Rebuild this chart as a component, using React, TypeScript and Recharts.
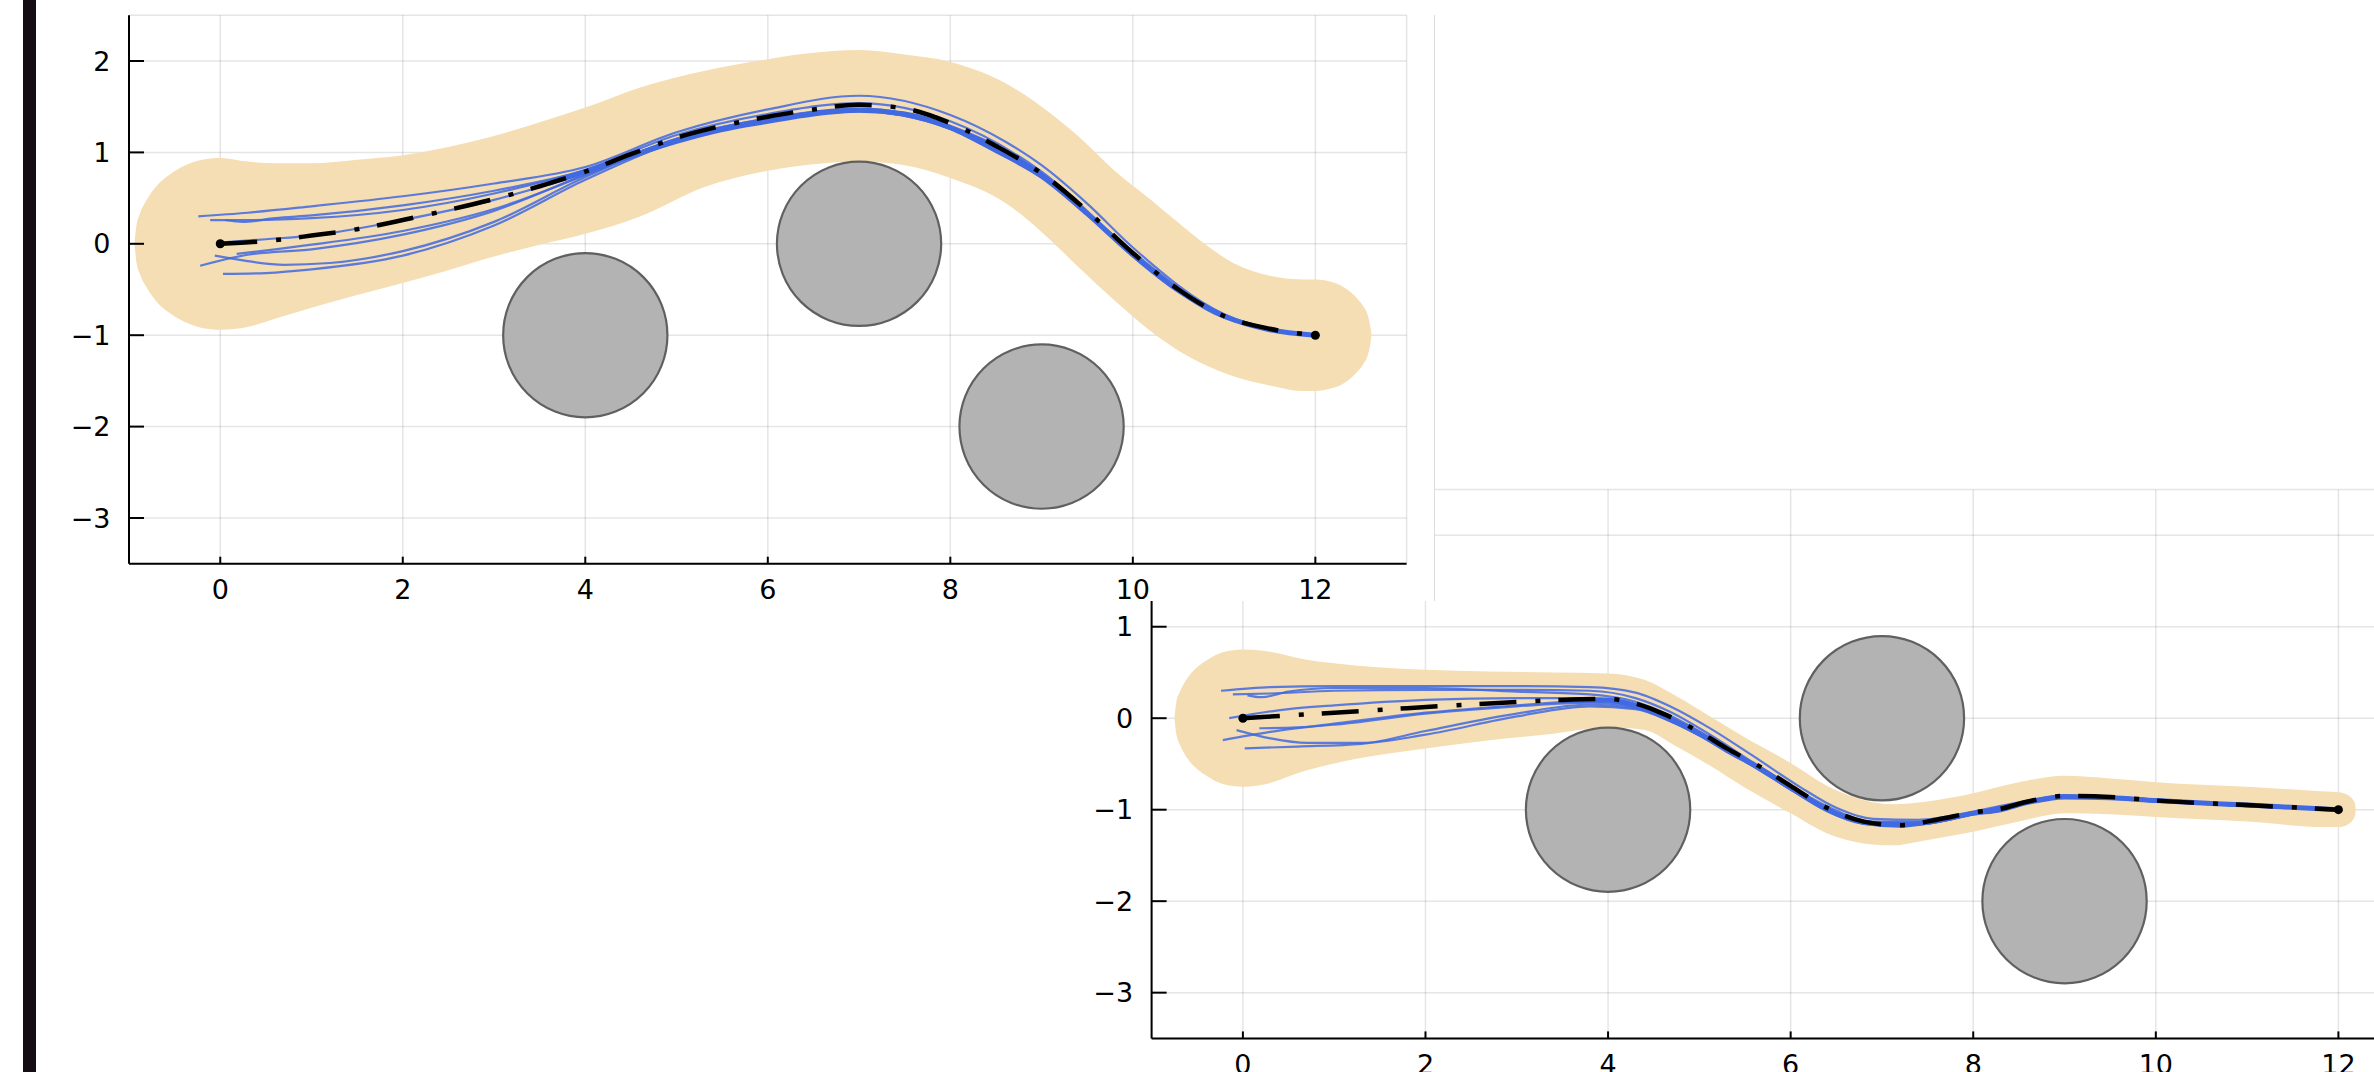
import React from "react";
import {
  ComposedChart,
  Area,
  Line,
  Scatter,
  XAxis,
  YAxis,
  CartesianGrid,
} from "recharts";

type Pt = [number, number];

const X_TICKS = [0, 2, 4, 6, 8, 10, 12];
const Y_TICKS = [-3, -2, -1, 0, 1, 2];
const X_DOMAIN: [number, number] = [-1, 13];
const Y_DOMAIN: [number, number] = [-3.5, 2.5];

const OBSTACLES = [
  { x: 4, y: -1, r: 0.9 },
  { x: 7, y: 0, r: 0.9 },
  { x: 9, y: -2, r: 0.9 },
];
const ENDPOINTS = [
  { x: 0, y: 0 },
  { x: 12, y: -1 },
];

// ---- top-left panel ----
const BAND1_X = [
  -0.94, -0.92, -0.88, -0.8, -0.7, -0.55, -0.4, -0.2, 0, 0.3, 0.6, 1.0, 1.5,
  2.0, 2.5, 3.0, 3.5, 4.0, 4.6, 5.3, 6.0, 6.5, 7.0, 7.5, 8.0, 8.6, 9.0, 9.4,
  9.8, 10.2, 10.5, 10.8, 11.1, 11.5, 11.85, 12.0, 12.2, 12.35, 12.45, 12.53,
  12.58, 12.605, 12.615,
];
const BAND1_LO = [
  0, -0.19, -0.33, -0.49, -0.63, -0.76, -0.85, -0.92, -0.94, -0.91, -0.82,
  -0.7, -0.56, -0.43, -0.29, -0.14, -0.01, 0.11, 0.3, 0.62, 0.8, 0.87, 0.9,
  0.86, 0.72, 0.45, 0.13, -0.25, -0.62, -0.96, -1.17, -1.33, -1.45, -1.55,
  -1.61, -1.61, -1.576, -1.5, -1.41, -1.31, -1.2, -1.08, -1.0,
];
const BAND1_HI = [
  0, 0.19, 0.33, 0.49, 0.63, 0.76, 0.85, 0.92, 0.94, 0.9, 0.88, 0.88, 0.92,
  0.97, 1.06, 1.18, 1.33, 1.49, 1.71, 1.89, 2.02, 2.09, 2.12, 2.07, 1.99,
  1.76, 1.5, 1.18, 0.8, 0.48, 0.23, -0.01, -0.21, -0.35, -0.39, -0.39, -0.424,
  -0.5, -0.59, -0.69, -0.8, -0.92, -1.0,
];
const REF1: Pt[] = [
  [0, 0], [0.5, 0.03], [1, 0.09], [1.5, 0.16], [2, 0.26], [2.5, 0.37],
  [3, 0.49], [3.5, 0.63], [4, 0.79], [4.5, 0.98], [5, 1.16], [5.5, 1.29],
  [6, 1.39], [6.5, 1.47], [7, 1.52], [7.5, 1.48], [8, 1.32], [8.5, 1.07],
  [9, 0.77], [9.5, 0.36], [10, -0.1], [10.5, -0.5], [11, -0.79],
  [11.5, -0.93], [12, -1],
];
const MEAN1: Pt[] = [
  [3.6, 0.66], [4, 0.79], [4.5, 0.96], [5, 1.12], [5.5, 1.25], [6, 1.34],
  [6.5, 1.42], [7, 1.46], [7.5, 1.42], [8, 1.27], [8.5, 1.02], [9, 0.74],
  [9.5, 0.33], [10, -0.12], [10.5, -0.51], [11, -0.79], [11.5, -0.94],
  [12, -1],
];
const SAMPLES1: Pt[][] = [
  [[-0.24, 0.3], [0.3, 0.34], [1, 0.41], [2, 0.52], [3, 0.66], [4, 0.84], [5, 1.22], [6, 1.47], [7, 1.62], [8, 1.41], [8.6, 1.12], [9, 0.86], [9.5, 0.44], [10, -0.04], [11, -0.77], [12, -1]],
  [[-0.11, 0.26], [0.3, 0.26], [1, 0.28], [2, 0.37], [3, 0.55], [4, 0.81], [5, 1.19], [6, 1.42], [7, 1.54], [8, 1.34], [9, 0.79], [10, -0.09], [11, -0.79], [12, -1]],
  [[0.05, 0.26], [0.25, 0.24], [0.6, 0.28], [1, 0.31], [2, 0.42], [3, 0.58], [4, 0.8], [5, 1.14], [6, 1.36], [7, 1.47], [8, 1.28], [9, 0.76], [10, -0.12], [11, -0.8], [12, -1]],
  [[-0.04, 0.01], [0.5, 0.05], [1, 0.09], [2, 0.26], [3, 0.48], [4, 0.78], [5, 1.15], [6, 1.37], [7, 1.48], [8, 1.29], [9, 0.77], [10, -0.11], [11, -0.8], [12, -1]],
  [[0.18, -0.11], [0.6, -0.06], [1, -0.01], [2, 0.14], [3, 0.38], [4, 0.75], [5, 1.14], [6, 1.36], [7, 1.46], [8, 1.27], [9, 0.76], [10, -0.12], [11, -0.8], [12, -1]],
  [[-0.06, -0.13], [0.3, -0.19], [0.7, -0.23], [1.2, -0.21], [2, -0.08], [3, 0.24], [4, 0.73], [5, 1.13], [6, 1.35], [7, 1.45], [8, 1.26], [9, 0.75], [10, -0.12], [11, -0.8], [12, -1]],
  [[-0.22, -0.24], [0.3, -0.12], [1, -0.06], [2, 0.1], [3, 0.36], [4, 0.76], [5, 1.15], [6, 1.37], [7, 1.47], [8, 1.28], [9, 0.77], [10, -0.11], [11, -0.8], [12, -1]],
  [[0.03, -0.33], [0.5, -0.32], [1, -0.28], [2, -0.13], [3, 0.2], [4, 0.7], [5, 1.12], [6, 1.35], [7, 1.45], [8, 1.26], [9, 0.76], [10, -0.13], [11, -0.81], [12, -1]],
];

// ---- bottom-right panel ----
const BAND2_X = [
  -0.75, -0.73, -0.69, -0.62, -0.52, -0.4, -0.22, 0, 0.2, 0.7, 1.2, 2.0, 2.7,
  3.4, 4.0, 4.4, 4.75, 5.1, 5.5, 6.0, 6.4, 6.75, 7.1, 7.5, 8.0, 8.5, 9.0, 9.5,
  10.0, 11.0, 11.85, 12.0, 12.06, 12.12, 12.16, 12.18, 12.19,
];
const BAND2_LO = [
  0, -0.17, -0.29, -0.42, -0.54, -0.63, -0.72, -0.75, -0.73, -0.57, -0.45,
  -0.33, -0.24, -0.17, -0.1, -0.13, -0.31, -0.51, -0.76, -1.04, -1.26, -1.36,
  -1.39, -1.33, -1.24, -1.13, -1.04, -1.05, -1.08, -1.13, -1.19, -1.19, -1.18,
  -1.15, -1.11, -1.07, -1.0,
];
const BAND2_HI = [
  0, 0.17, 0.29, 0.42, 0.54, 0.63, 0.72, 0.75, 0.74, 0.64, 0.58, 0.53, 0.51,
  0.5, 0.49, 0.42, 0.24, 0.03, -0.21, -0.49, -0.74, -0.88, -0.94, -0.91,
  -0.82, -0.7, -0.63, -0.66, -0.7, -0.75, -0.8, -0.81, -0.82, -0.85, -0.89,
  -0.93, -1.0,
];
const REF2: Pt[] = [
  [0, 0], [0.5, 0.03], [1, 0.06], [1.8, 0.11], [2.5, 0.15], [3.5, 0.2],
  [4, 0.21], [4.3, 0.16], [4.6, 0.05], [5, -0.15], [5.3, -0.33], [5.7, -0.55],
  [6, -0.74], [6.4, -0.98], [6.8, -1.13], [7.2, -1.17], [7.6, -1.11],
  [8, -1.03], [8.3, -0.99], [8.6, -0.91], [9, -0.85], [9.5, -0.86],
  [10, -0.9], [11, -0.95], [12, -1],
];
const MEAN2: Pt[] = [
  [3.5, 0.19], [4, 0.2], [4.3, 0.14], [4.6, 0.03], [5, -0.17], [5.3, -0.35],
  [5.7, -0.57], [6, -0.76], [6.4, -1.0], [6.8, -1.14], [7.2, -1.17],
  [7.6, -1.12], [8, -1.04], [8.3, -1.0], [8.6, -0.92], [9, -0.86],
  [9.5, -0.87], [10, -0.9], [11, -0.95], [12, -1],
];
const SAMPLES2: Pt[][] = [
  [[-0.24, 0.3], [0.3, 0.34], [1, 0.35], [2, 0.35], [3, 0.35], [3.8, 0.34], [4.3, 0.28], [4.7, 0.12], [5.1, -0.1], [5.6, -0.42], [6.1, -0.75], [6.5, -0.98], [6.9, -1.1], [7.4, -1.11], [8, -1.02], [8.6, -0.9], [9, -0.84], [10, -0.89], [11, -0.95], [12, -1]],
  [[-0.11, 0.26], [0.3, 0.27], [1, 0.3], [2, 0.31], [3, 0.31], [3.8, 0.3], [4.3, 0.22], [4.7, 0.06], [5.1, -0.17], [5.6, -0.49], [6.1, -0.8], [6.5, -1.01], [6.9, -1.13], [7.4, -1.13], [8, -1.03], [8.6, -0.91], [9, -0.85], [10, -0.89], [11, -0.95], [12, -1]],
  [[0.05, 0.25], [0.2, 0.23], [0.5, 0.29], [1, 0.33], [2, 0.33], [3, 0.29], [3.8, 0.26], [4.3, 0.18], [4.7, 0.02], [5.1, -0.2], [5.6, -0.5], [6.1, -0.81], [6.5, -1.03], [6.9, -1.14], [7.4, -1.14], [8, -1.04], [8.6, -0.91], [9, -0.85], [10, -0.9], [11, -0.95], [12, -1]],
  [[-0.15, 0.0], [0.5, 0.1], [1, 0.14], [2, 0.2], [3, 0.22], [3.8, 0.22], [4.3, 0.15], [4.7, -0.01], [5.1, -0.22], [5.6, -0.51], [6.1, -0.82], [6.5, -1.04], [6.9, -1.15], [7.4, -1.15], [8, -1.04], [8.6, -0.92], [9, -0.86], [10, -0.9], [11, -0.95], [12, -1]],
  [[0.18, -0.11], [0.6, -0.1], [1, -0.07], [2, 0.05], [3, 0.13], [3.8, 0.17], [4.3, 0.12], [4.7, -0.03], [5.1, -0.23], [5.6, -0.52], [6.1, -0.83], [6.5, -1.05], [6.9, -1.16], [7.4, -1.15], [8, -1.05], [8.6, -0.92], [9, -0.86], [10, -0.9], [11, -0.96], [12, -1]],
  [[-0.07, -0.13], [0.3, -0.22], [0.7, -0.27], [1.3, -0.27], [2, -0.18], [3, 0.02], [3.8, 0.13], [4.3, 0.1], [4.7, -0.04], [5.1, -0.24], [5.6, -0.53], [6.1, -0.84], [6.5, -1.05], [6.9, -1.16], [7.4, -1.16], [8, -1.05], [8.6, -0.92], [9, -0.86], [10, -0.91], [11, -0.96], [12, -1]],
  [[-0.22, -0.24], [0.3, -0.15], [1, -0.06], [2, 0.06], [3, 0.14], [3.8, 0.19], [4.3, 0.13], [4.7, -0.02], [5.1, -0.22], [5.6, -0.51], [6.1, -0.82], [6.5, -1.04], [6.9, -1.15], [7.4, -1.15], [8, -1.04], [8.6, -0.92], [9, -0.85], [10, -0.9], [11, -0.95], [12, -1]],
  [[0.02, -0.33], [0.6, -0.31], [1.3, -0.28], [2, -0.14], [3, 0.05], [3.8, 0.15], [4.3, 0.11], [4.7, -0.04], [5.1, -0.24], [5.6, -0.53], [6.1, -0.84], [6.5, -1.06], [6.9, -1.16], [7.4, -1.16], [8, -1.05], [8.6, -0.92], [9, -0.86], [10, -0.9], [11, -0.96], [12, -1]],
];

const Y_AXIS_W = 100;
const X_AXIS_H = 30;
const BLUE = "#4169e1";
const FONT = "'DejaVu Sans', sans-serif";

const fmtTick = (v: number) => (v < 0 ? `\u2212${Math.abs(v)}` : `${v}`);
const toXY = (pts: Pt[]) => pts.map(([x, y]) => ({ x, y }));
const buildBand = (xs: number[], lo: number[], hi: number[]) =>
  xs.map((x, i) => ({ x, band: [lo[i], hi[i]] }));

const axisStroke = { stroke: "#000", strokeWidth: 2 };
const tickText = { fill: "#000", fontSize: 27, fontFamily: FONT };

interface PanelProps {
  width: number;
  height: number;
  margin: { top: number; right: number; bottom: number; left: number };
  band: { x: number; band: number[] }[];
  reference: Pt[];
  mean: Pt[];
  samples: Pt[][];
}

function Panel({ width, height, margin, band, reference, mean, samples }: PanelProps) {
  const plotW = width - margin.left - margin.right - Y_AXIS_W;
  const pxPerUnit = plotW / (X_DOMAIN[1] - X_DOMAIN[0]);

  return (
    <ComposedChart width={width} height={height} data={band} margin={margin}>
      <CartesianGrid stroke="#000" strokeOpacity={0.1} strokeWidth={1.5} />
      <XAxis
        dataKey="x"
        type="number"
        domain={X_DOMAIN}
        ticks={X_TICKS}
        allowDataOverflow
        interval={0}
        height={X_AXIS_H}
        tickSize={-7}
        tickMargin={23}
        axisLine={axisStroke}
        tickLine={axisStroke}
        tick={tickText}
        tickFormatter={fmtTick}
      />
      <YAxis
        type="number"
        domain={Y_DOMAIN}
        ticks={Y_TICKS}
        allowDataOverflow
        interval={0}
        width={Y_AXIS_W}
        tickSize={-15}
        tickMargin={33.5}
        axisLine={axisStroke}
        tickLine={axisStroke}
        tick={tickText}
        tickFormatter={fmtTick}
      />
      <Area
        dataKey="band"
        type="monotone"
        fill="#f5deb3"
        fillOpacity={1}
        stroke="none"
        isAnimationActive={false}
      />
      <Scatter
        data={OBSTACLES}
        dataKey="y"
        isAnimationActive={false}
        shape={(p: any) => (
          <circle
            cx={p.cx}
            cy={p.cy}
            r={p.payload.r * pxPerUnit}
            fill="#b3b3b3"
            stroke="#606060"
            strokeWidth={2.2}
          />
        )}
      />
      {samples.map((s, i) => (
        <Line
          key={`s${i}`}
          data={toXY(s)}
          dataKey="y"
          type="monotone"
          stroke={BLUE}
          strokeOpacity={0.85}
          strokeWidth={2.2}
          dot={false}
          isAnimationActive={false}
        />
      ))}
      <Line
        data={toXY(mean)}
        dataKey="y"
        type="monotone"
        stroke={BLUE}
        strokeWidth={5}
        dot={false}
        isAnimationActive={false}
      />
      <Line
        data={toXY(reference)}
        dataKey="y"
        type="monotone"
        stroke="#000"
        strokeWidth={4.5}
        strokeDasharray="37 19 5 18"
        dot={false}
        isAnimationActive={false}
      />
      <Scatter
        data={ENDPOINTS}
        dataKey="y"
        isAnimationActive={false}
        shape={(p: any) => <circle cx={p.cx} cy={p.cy} r={4.5} fill="#000" />}
      />
    </ComposedChart>
  );
}

export default function App() {
  const band1 = buildBand(BAND1_X, BAND1_LO, BAND1_HI);
  const band2 = buildBand(BAND2_X, BAND2_LO, BAND2_HI);

  return (
    <div
      style={{
        position: "fixed",
        left: 0,
        top: 0,
        width: 2374,
        height: 1072,
        overflow: "hidden",
        background: "#fff",
        fontFamily: FONT,
      }}
    >
      {/* lower-right panel, partly hidden under the first one */}
      <div style={{ position: "absolute", left: 1000, top: 440 }}>
        <Panel
          width={1500}
          height={700}
          margin={{ top: 49.5, right: 70.3, bottom: 71.6, left: 51.6 }}
          band={band2}
          reference={REF2}
          mean={MEAN2}
          samples={SAMPLES2}
        />
      </div>

      {/* upper-left panel with its own white background */}
      <div
        style={{
          position: "absolute",
          left: 0,
          top: 0,
          width: 1435,
          height: 601,
          background: "#fff",
        }}
      >
        <Panel
          width={1435}
          height={601}
          margin={{ top: 15.3, right: 28.4, bottom: 7.3, left: 29 }}
          band={band1}
          reference={REF1}
          mean={MEAN1}
          samples={SAMPLES1}
        />
      </div>
      <div
        style={{
          position: "absolute",
          left: 1434,
          top: 15,
          width: 1,
          height: 586,
          background: "#dcdcdc",
        }}
      />
      <div
        style={{
          position: "absolute",
          left: 23,
          top: 0,
          width: 13,
          height: 1072,
          background: "#150d14",
        }}
      />
    </div>
  );
}
